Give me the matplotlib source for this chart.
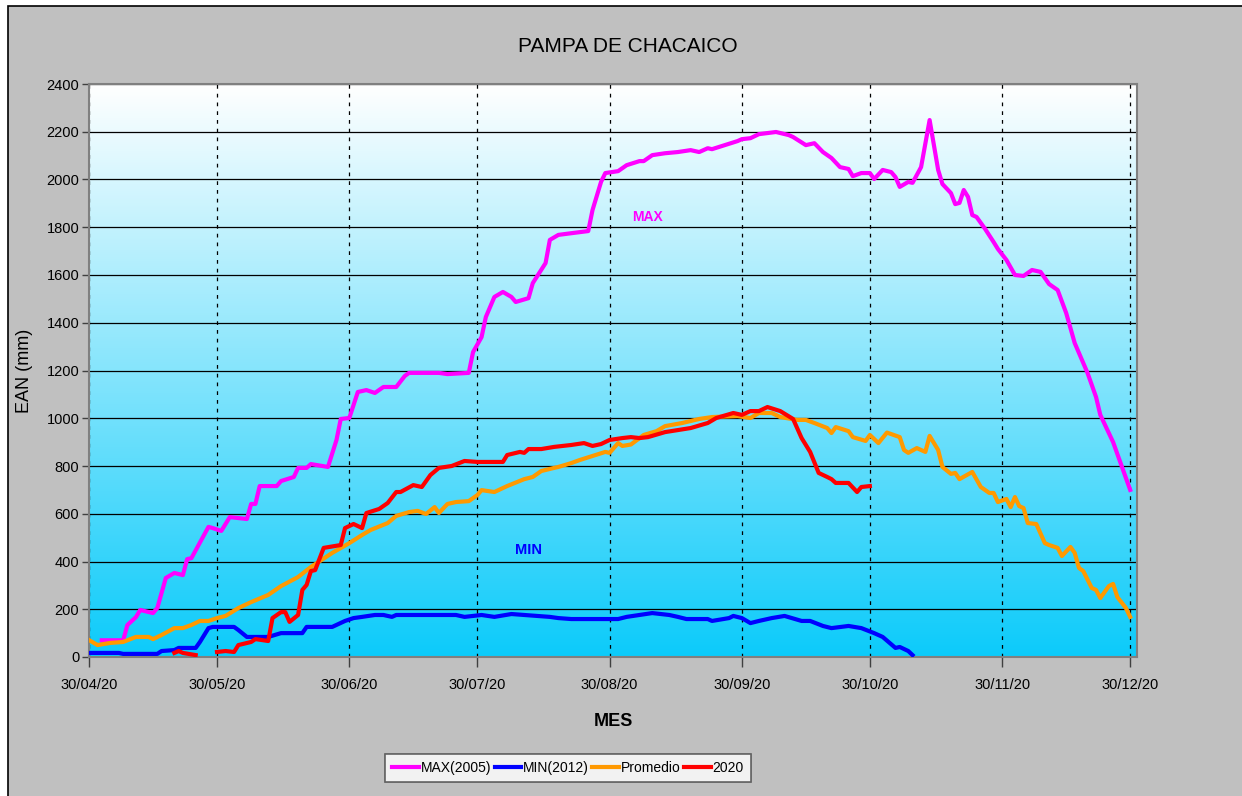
import numpy as np
import matplotlib
matplotlib.use("Agg")
import matplotlib.pyplot as plt
import matplotlib.dates as mdates
from matplotlib.colors import LinearSegmentedColormap
from matplotlib.patches import Rectangle

# dias contados desde el 30/04/20
inicio = np.datetime64("2020-04-30")

max_dias = [3, 8, 9, 11, 12, 15, 16, 18, 20, 22, 23, 24, 28, 29, 31, 33, 37, 38, 39, 40,
            44, 45, 48, 49, 51, 52, 56, 58, 59, 61, 63, 65, 67, 69, 72, 74, 75, 82, 84, 89,
            90, 92, 93, 95, 97, 99, 100, 103, 104, 107, 108, 110, 113, 117, 118, 120, 121,
            124, 126, 129, 130, 132, 135, 138, 141, 143, 145, 146, 149, 152, 153, 155, 157,
            161, 164, 165, 168, 170, 172, 174, 176, 178, 179, 181, 183, 184, 186, 188, 189,
            190, 192, 193, 195, 197, 199, 200, 202, 203, 204, 205, 206, 207, 208, 210, 212,
            213, 215, 217, 219, 221, 223, 225, 227, 229, 231, 234, 236, 237, 240, 244]
max_ean = [70, 70, 134, 167, 197, 184, 205, 331, 352, 343, 410, 414, 545, 540, 528, 586, 578,
           641, 641, 716, 716, 737, 754, 792, 792, 808, 796, 909, 997, 1001, 1110, 1118, 1106,
           1131, 1131, 1177, 1190, 1190, 1185, 1190, 1277, 1340, 1424, 1508, 1529, 1508, 1487,
           1503, 1566, 1650, 1747, 1768, 1775, 1784, 1872, 1990, 2027, 2035, 2060, 2077, 2077,
           2102, 2110, 2115, 2123, 2115, 2131, 2127, 2144, 2161, 2169, 2173, 2190, 2199, 2186,
           2178, 2144, 2152, 2115, 2090, 2052, 2044, 2014, 2027, 2027, 2002, 2040, 2031, 2010,
           1969, 1990, 1986, 2052, 2249, 2040, 1981, 1943, 1897, 1902, 1956, 1927, 1851, 1843,
           1793, 1738, 1709, 1663, 1600, 1596, 1621, 1613, 1562, 1537, 1441, 1315, 1190, 1089,
           1014, 900, 700]

min_dias = [0, 7, 8, 16, 17, 20, 21, 25, 26, 28, 29, 34, 35, 37, 42, 45, 50, 51, 57, 60, 62,
            64, 67, 69, 71, 72, 86, 88, 92, 95, 99, 102, 108, 110, 113, 124, 126, 129, 132,
            136, 138, 140, 145, 146, 150, 151, 153, 155, 157, 160, 163, 167, 169, 172, 174,
            178, 181, 184, 186, 189, 190, 192, 193]
min_ean = [17, 17, 13, 13, 25, 29, 38, 38, 63, 121, 126, 126, 113, 84, 84, 100, 100, 126, 126,
           151, 163, 168, 176, 176, 168, 176, 176, 168, 176, 168, 180, 176, 168, 163, 159, 159,
           168, 176, 184, 176, 168, 159, 159, 151, 163, 172, 163, 142, 151, 163, 172, 151, 151,
           130, 121, 130, 121, 100, 84, 38, 42, 25, 8]

prom_dias = [0, 2, 5, 8, 11, 14, 15, 17, 20, 22, 24, 26, 28, 30, 32, 35, 38, 42, 45, 49, 52,
             57, 61, 64, 66, 70, 72, 75, 77, 79, 81, 82, 84, 86, 89, 91, 92, 95, 98, 102, 104,
             106, 109, 110, 113, 115, 118, 121, 122, 124, 125, 127, 130, 133, 135, 139, 143,
             146, 152, 155, 157, 160, 162, 166, 168, 170, 173, 174, 175, 178, 179, 182, 183,
             185, 187, 190, 191, 192, 194, 196, 197, 199, 200, 202, 203, 204, 207, 209, 211,
             212, 213, 215, 216, 217, 218, 219, 220, 222, 224, 225, 227, 228, 230, 231, 232,
             233, 235, 236, 237, 239, 240, 241, 243, 244]
prom_ean = [71, 50, 59, 63, 84, 84, 75, 92, 121, 121, 134, 151, 151, 163, 172, 205, 230, 260,
            297, 335, 377, 436, 477, 511, 532, 561, 591, 607, 612, 599, 628, 603, 641, 649, 653,
            678, 699, 691, 716, 745, 754, 779, 792, 796, 812, 825, 842, 859, 855, 896, 884, 890,
            930, 946, 967, 980, 997, 1005, 1009, 1001, 1022, 1022, 1005, 993, 993, 980, 959,
            938, 963, 946, 921, 905, 930, 896, 940, 921, 867, 855, 875, 859, 926, 867, 796,
            767, 771, 745, 775, 712, 687, 687, 649, 662, 628, 670, 632, 624, 561, 557, 477,
            469, 457, 423, 461, 436, 373, 360, 289, 281, 247, 297, 306, 251, 205, 168]

a2020_dias = [20, 21, 22, 25, 27, 30, 32, 34, 35, 38, 39, 42, 43, 45, 46, 47, 49, 50, 51, 52,
              53, 55, 59, 60, 62, 64, 65, 68, 70, 72, 73, 76, 78, 80, 82, 85, 88, 91, 97, 98,
              101, 102, 103, 106, 109, 113, 116, 118, 120, 122, 125, 127, 129, 131, 135, 141,
              145, 147, 151, 153, 155, 157, 159, 162, 165, 167, 169, 171, 173, 174, 175, 178,
              180, 181, 183]
a2020_ean = [17, 25, 17, 8, np.nan, 21, 25, 21, 50, 63, 75, 67, 163, 188, 188, 147, 176, 281,
             302, 360, 364, 457, 469, 540, 557, 540, 603, 620, 645, 691, 691, 720, 712, 762,
             792, 800, 821, 817, 817, 846, 859, 855, 871, 871, 880, 888, 896, 884, 892, 909,
             917, 921, 917, 921, 942, 959, 980, 1001, 1022, 1014, 1030, 1030, 1047, 1030, 997,
             917, 859, 771, 754, 745, 729, 729, 691, 712, 716]

series = [("MAX(2005)", max_dias, max_ean, "#FF00FF"),
          ("MIN(2012)", min_dias, min_ean, "#0000FF"),
          ("Promedio", prom_dias, prom_ean, "#FF9900"),
          ("2020", a2020_dias, a2020_ean, "#FF0000")]

fuente = ["Liberation Sans Narrow", "Liberation Sans", "DejaVu Sans"]
plt.rcParams["font.family"] = fuente


def fechas(dias):
    return inicio + np.array(dias).astype("timedelta64[D]")


fig = plt.figure(figsize=(12.42, 7.96), dpi=100, facecolor="white")
fig.patches.append(Rectangle((8 / 1242, -0.01), 1.02, 1 - 6 / 796 + 0.01,
                             transform=fig.transFigure, facecolor="#C0C0C0",
                             edgecolor="black", linewidth=1.2, zorder=-10))

ax = fig.add_axes([89 / 1242, 1 - 657 / 796, (1137 - 89) / 1242, (657 - 84) / 796])
ax.set_facecolor("white")

# fondo degradado blanco -> celeste
cmap = LinearSegmentedColormap.from_list("fondo", ["#0CCBFA", "#FFFFFF"])
grad = np.linspace(0, 1, 256).reshape(-1, 1)
ax.imshow(grad, extent=[0, 1, 0, 1], transform=ax.transAxes, aspect="auto",
          cmap=cmap, origin="lower", zorder=0)

for nombre, d, v, c in series:
    ax.plot(fechas(d), v, color=c, lw=3, label=nombre, zorder=3, solid_joinstyle="round")

ax.set_xlim(mdates.date2num(inicio), mdates.date2num(inicio) + 245.6)
ax.set_ylim(0, 2400)
ax.set_yticks(np.arange(0, 2401, 200))
ticks_x = [np.datetime64(f"2020-{m:02d}-30") for m in range(4, 13)]
ax.set_xticks(mdates.date2num(ticks_x))
ax.xaxis.set_major_formatter(mdates.DateFormatter("%d/%m/%y"))

ax.grid(axis="y", color="black", lw=0.9, linestyle="-", zorder=1)
ax.grid(axis="x", color="black", lw=0.9, linestyle=(0, (3, 4)), zorder=1)
ax.set_axisbelow(True)

for s in ax.spines.values():
    s.set_color("#808080")
    s.set_linewidth(1.5)
ax.tick_params(axis="y", direction="out", length=5, width=1, colors="#404040",
               labelcolor="black", labelsize=10.5, pad=2)
ax.tick_params(axis="x", direction="out", length=7, width=1, colors="#404040",
               labelcolor="black", labelsize=10.5, pad=8)
for lab in ax.get_xticklabels() + ax.get_yticklabels():
    lab.set_family(["Liberation Sans", "DejaVu Sans"])

ax.set_ylabel("EAN (mm)", fontsize=13, family=["Liberation Sans", "DejaVu Sans"], labelpad=10)
ax.set_xlabel("MES", fontsize=13, fontweight="bold", labelpad=15)

ax.text(mdates.date2num(inicio) + 131, 1843, "MAX", color="#FF00FF", fontsize=10,
        fontweight="bold", ha="center", va="center")
ax.text(mdates.date2num(inicio) + 103, 448, "MIN", color="#0000FF", fontsize=10.5,
        fontweight="bold", ha="center", va="center")

fig.text(628 / 1242, 1 - 47 / 796, "PAMPA DE CHACAICO", fontsize=15,
         ha="center", va="center")

leg = fig.legend(loc="center", bbox_to_anchor=(568 / 1242, 1 - 768 / 796), ncol=4,
                 fontsize=10, frameon=True, fancybox=False, edgecolor="#404040",
                 handlelength=1.9, handletextpad=0.15, columnspacing=0.25,
                 borderpad=0.5, borderaxespad=0)
leg.get_frame().set_linewidth(1.2)

fig.savefig("out.png", dpi=100, facecolor=fig.get_facecolor())
